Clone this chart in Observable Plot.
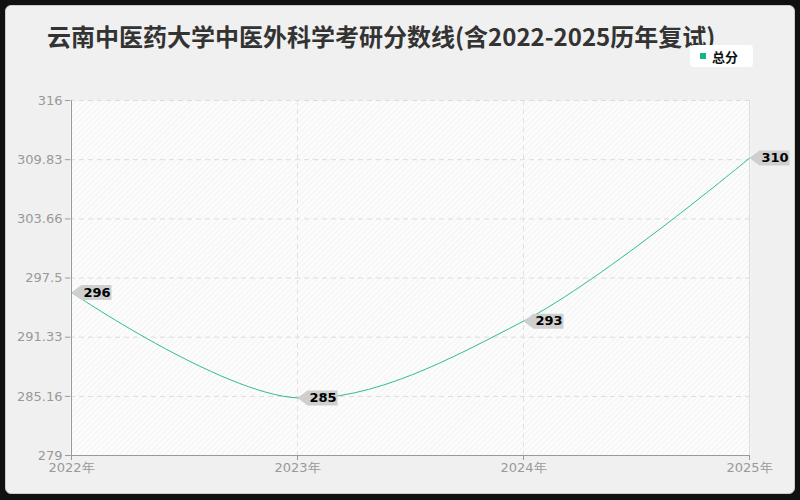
<!DOCTYPE html>
<html>
<head>
<meta charset="utf-8">
<script src="https://cdn.jsdelivr.net/npm/d3@7"></script>
<script src="https://cdn.jsdelivr.net/npm/@observablehq/plot@0.6"></script>
<style>
  html, body { margin: 0; padding: 0; background: #111; width: 800px; height: 500px; overflow: hidden; }
  #card { position: absolute; left: 5px; top: 5px; width: 790px; height: 489px; background: #f0f0f0; border-radius: 6px; border: 1px solid #ccc; box-sizing: border-box; }
  #title { position: absolute; left: 47px; top: 18px; font-family: "Noto Sans CJK SC", "Noto Sans", sans-serif; font-size: 24px; font-weight: bold; color: #333; white-space: nowrap; }
  #legend { position: absolute; left: 690px; top: 45px; width: 63px; height: 22px; background: #fff; border-radius: 4px; font-family: "Noto Sans CJK SC", sans-serif; font-size: 13px; font-weight: bold; color: #111; display: flex; align-items: center; box-sizing: border-box; padding-left: 10px; }
  #legend .sw { width: 6px; height: 6px; background: #14b887; margin-right: 6px; }
  #chart { position: absolute; left: 0; top: 80px; }
</style>
</head>
<body>
<div id="card"></div>
<div id="title">云南中医药大学中医外科学考研分数线(含2022-2025历年复试)</div>
<div id="legend"><span class="sw"></span>总分</div>
<div id="chart"></div>
<script>
const years = ["2022年", "2023年", "2024年", "2025年"];
const scores = [296, 285, 293, 310];
const yTicks = [279, 285.16, 291.33, 297.5, 303.66, 309.83, 316];
const seriesName = "总分";

const data = years.map((y, i) => ({year: y, v: scores[i]}));
const labelDx = 12;

// draws a left-pointing grey tag behind each value label
function tagRender(index, scales, values, dimensions, context, next) {
  const g = next(index, scales, values, dimensions, context);
  const ns = "http://www.w3.org/2000/svg";
  const bg = document.createElementNS(ns, "g");
  for (const i of index) {
    const px = values.x[i] - labelDx, py = values.y[i];
    const txt = String(data[i].v);
    const w = txt.length * 9 + 3;
    const p = document.createElementNS(ns, "path");
    p.setAttribute("d", `M${px},${py}l10,-7.5h${w}v15h${-w}l-10,-7.5z`);
    p.setAttribute("fill", "#cfcfcf");
    bg.appendChild(p);
  }
  g.insertBefore(bg, g.firstChild);
  return g;
}

const plot = Plot.plot({
  width: 800,
  height: 420,
  marginTop: 20,
  marginBottom: 45,
  marginLeft: 70,
  marginRight: 50,
  style: {fontFamily: "DejaVu Sans, sans-serif", fontSize: "13px", background: "transparent"},
  x: {type: "point", domain: years, padding: 0, label: null},
  y: {domain: [279, 316], label: null},
  marks: [
    Plot.frame({fill: "url(#hatch)", stroke: "none"}),
    Plot.gridY(yTicks, {stroke: "#dcdcdc", strokeOpacity: 1, strokeDasharray: "5,4"}),
    Plot.gridX(years.slice(1, 3), {stroke: "#e2e2e2", strokeOpacity: 1, strokeDasharray: "5,4"}),
    Plot.ruleX([years[3]], {stroke: "#dddddd"}),
    Plot.ruleX([years[0]], {stroke: "#999"}),
    Plot.ruleY([279], {stroke: "#999"}),
    Plot.axisY({ticks: yTicks, tickFormat: d => String(d), tickSize: 5, stroke: "#999", color: "#999", tickPadding: 3, fontSize: 13, label: null}),
    Plot.axisX({tickSize: 5, stroke: "#999", color: "#999", tickPadding: 2, fontSize: 13, label: null}),
    Plot.line(data, {x: "year", y: "v", curve: "catmull-rom", stroke: "#2fbf8b", strokeWidth: 1}),
    Plot.text(data, {x: "year", y: "v", text: d => String(d.v), textAnchor: "start", dx: labelDx, fill: "#000", fontSize: 13, fontWeight: "bold", render: tagRender})
  ]
});

const ns = "http://www.w3.org/2000/svg";
const defs = document.createElementNS(ns, "defs");
defs.innerHTML = '<pattern id="hatch" width="4" height="4" patternUnits="userSpaceOnUse" patternTransform="rotate(45)"><rect width="4" height="4" fill="#fcfcfc"/><line x1="0" y1="0" x2="0" y2="4" stroke="#f0f0f0" stroke-width="1.5"/></pattern>';
plot.insertBefore(defs, plot.firstChild);
document.getElementById("chart").appendChild(plot);
</script>
</body>
</html>
